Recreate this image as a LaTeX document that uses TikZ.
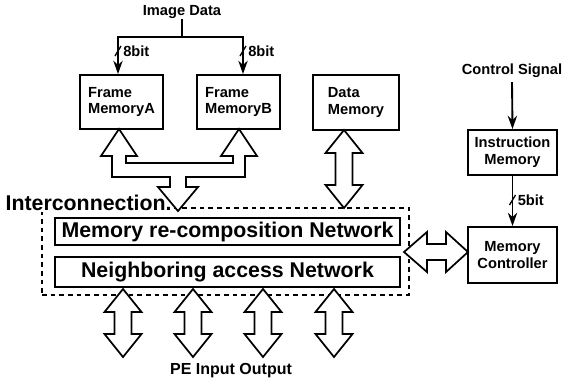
\documentclass[tikz,border=0pt]{standalone}
\usepackage{fontspec}
\setmainfont{Liberation Sans}
\usetikzlibrary{arrows.meta, positioning, calc}

% hollow vertical double arrow: x, top tip, bottom tip
\newcommand{\vblock}[3]{%
  \draw[blockarrow] (#1,#2) -- ++(18.5,23) -- ++(-10,0) -- ++(0,#3-#2-46)
    -- ++(10,0) -- ++(-18.5,23) -- ++(-18.5,-23) -- ++(10,0) -- ++(0,#2-#3+46)
    -- ++(-10,0) -- cycle;}

\begin{document}
\begin{tikzpicture}[
  x=0.75pt, y=-0.75pt,
  membox/.style={
    draw, line width=1.4pt, inner sep=0pt, align=left,
    font=\fontsize{11}{12.5}\selectfont\bfseries
  },
  netbox/.style={
    draw, line width=1.4pt, inner sep=0pt, minimum width=258.75pt,
    font=\fontsize{16}{18}\selectfont\bfseries
  },
  dotbox/.style={
    draw, line width=1.5pt, dash pattern=on 3.5pt off 3pt
  },
  sigtext/.style={font=\fontsize{11}{12}\selectfont\bfseries, inner sep=0pt},
  sig/.style={line width=1.4pt, -{Stealth[length=10pt,width=7pt]}},
  tick/.style={line width=1pt},
  blockarrow/.style={draw, line width=1.3pt, fill=white, line join=miter}
]
  \useasboundingbox (0,0) rectangle (563,380);

  % Memories
  \node[membox, minimum width=62.25pt, minimum height=40.5pt]
        (fa) at (121.5,102) {Frame\\MemoryA};
  \node[membox, minimum width=62.25pt, minimum height=40.5pt]
        (fb) at (238.5,102) {Frame\\MemoryB};
  \node[membox, minimum width=64.5pt, minimum height=41.25pt]
        (dm) at (356,102.5) {Data\\Memory};
  \node[membox, align=center, minimum width=66.75pt, minimum height=33.75pt]
        (im) at (512.5,152.5) {Instruction\\Memory};
  \node[membox, align=center, minimum width=66.75pt, minimum height=42pt]
        (mc) at (512.5,255) {Memory\\Controller};

  % Interconnection
  \node[dotbox, minimum width=275.25pt, minimum height=65.25pt]
        (ic) at (225.5,251.5) {};
  \node[anchor=base west, inner sep=1pt, fill=white,
        font=\fontsize{16}{18}\selectfont\bfseries]
        (ictext) at (4,210) {Interconnection.};
  \node[netbox, minimum height=20.25pt]
        (mrn) at (227.5,231.5) {Memory re-composition Network};
  \node[netbox, minimum height=22.5pt]
        (nan) at (227.5,272) {Neighboring access Network};

  % Image data
  \node[sigtext] (img) at (182,12) {Image Data};
  \draw[line width=1.4pt] (img.south) -- ++(0,18) coordinate (split);
  \draw[sig] (split) -| ($(fa.north)+(-3.5,0)$) coordinate[pos=0.69] (wa);
  \draw[sig] (split) -| ($(fb.north)+(4.5,0)$) coordinate[pos=0.69] (wb);
  \draw[tick] (wa) ++(-3,5) -- ++(6,-10);
  \draw[tick] (wb) ++(-3,5) -- ++(6,-10);
  \node[sigtext, anchor=west] at ($(wa)+(5,0)$) {8bit};
  \node[sigtext, anchor=west] at ($(wb)+(5,0)$) {8bit};

  % Control
  \node[sigtext] (cs) at (512,71) {Control Signal};
  \draw[sig] (cs.south) ++(0,4) -- (im.north);
  \draw[sig] (im.south) -- (mc.north) coordinate[pos=0.48] (wc);
  \draw[tick] (wc) ++(-3,5) -- ++(6,-10);
  \node[sigtext, anchor=west] at ($(wc)+(5,0)$) {5bit};

  % Frame memories to interconnection
  \draw[blockarrow] (119,129) -- (137,156) -- (126,156) -- (126,163)
    -- (233,163) -- (233,156) -- (221,156) -- (239,129) -- (257,156)
    -- (245,156) -- (245,177) -- (186,177) -- (186,187) -- (198,187)
    -- (178,211) -- (158,187) -- (170,187) -- (170,177) -- (112,177)
    -- (112,156) -- (101,156) -- cycle;

  % Data memory
  \vblock{344}{130}{208}

  % Controller link
  \draw[blockarrow] (404,252) -- (427,232) -- (427,244) -- (446,244)
    -- (446,232) -- (468,252) -- (446,272) -- (446,260) -- (427,260)
    -- (427,272) -- cycle;

  % PE side
  \foreach \x in {123,193,263,334}
    \vblock{\x}{289}{357};
  \node[font=\fontsize{12}{14}\selectfont\bfseries, inner sep=0pt]
        (pe) at (231,371) {PE Input Output};
\end{tikzpicture}
\end{document}
